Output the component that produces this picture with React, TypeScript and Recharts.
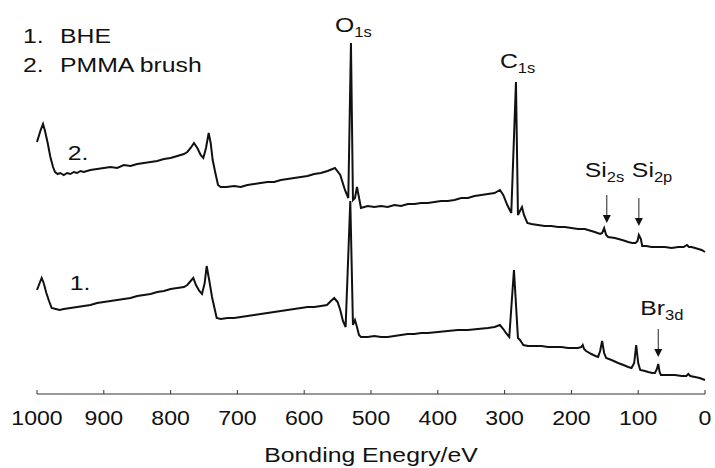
import React from "react";
import { LineChart, Line, XAxis, YAxis, ReferenceDot } from "recharts";

// binding energy (eV) / intensity (arb. units, px-like scale)
const pmmaEv = [
  1000, 995, 991, 988, 984, 980, 976, 973, 969, 965, 960, 955, 950, 945, 940, 935, 930, 920, 910, 900,
  890, 880, 870, 860, 850, 840, 830, 820, 810, 800, 790, 780, 775, 770, 765, 760, 755, 751, 747, 743,
  740, 737, 733, 729, 725, 716, 705, 695, 685, 675, 665, 655, 645, 635, 625, 615, 605, 595, 585, 575,
  565, 554, 546, 539, 534, 530, 527, 524, 521, 515, 505, 495, 485, 475, 465, 455, 445, 435, 425, 415,
  405, 395, 385, 375, 365, 355, 345, 335, 325, 315, 307, 302, 296, 290, 283, 280, 277, 274, 271, 266,
  260, 250, 240, 230, 220, 210, 200, 190, 180, 175, 165, 157, 154, 151, 148, 145, 135, 124, 115, 109,
  104, 101, 99, 96, 94, 88, 80, 70, 60, 50, 40, 32, 27, 24, 20, 15, 10, 5, 0,
];
const pmmaI = [
  251, 262, 269, 262, 250, 236, 226, 221, 219, 220, 218, 220, 219, 221, 220, 222, 221, 223, 224, 225,
  226, 225, 228, 227, 229, 230, 231, 232, 234, 235, 237, 239, 241, 245, 250, 245, 238, 235, 245, 260,
  250, 233, 220, 208, 206, 206, 207, 206, 208, 209, 210, 211, 211, 213, 214, 215, 216, 217, 219, 220,
  222, 225, 218, 203, 195, 350, 193, 195, 206, 185, 187, 186, 187, 186, 188, 187, 189, 189, 190, 190,
  191, 192, 192, 193, 195, 195, 197, 198, 199, 200, 203, 198, 188, 180, 311, 178, 182, 186, 178, 170,
  169, 168, 167, 167, 166, 166, 165, 164, 164, 163, 161, 159, 160, 165, 158, 156, 155, 153, 151, 150,
  150, 152, 158, 154, 147, 147, 146, 146, 146, 145, 146, 146, 148, 146, 146, 145, 144, 143, 141,
];

const bheEv = [
  1000, 996, 993, 990, 986, 982, 978, 972, 966, 960, 950, 940, 930, 920, 910, 900, 890, 880, 870, 860,
  850, 840, 830, 820, 810, 800, 790, 780, 775, 770, 766, 762, 757, 753, 749, 746, 742, 738, 734, 731,
  725, 715, 705, 695, 685, 675, 665, 655, 645, 635, 625, 615, 605, 595, 585, 575, 566, 560, 555, 550,
  546, 542, 538, 531, 527, 524, 521, 518, 515, 505, 495, 485, 475, 465, 455, 445, 435, 425, 415, 400,
  385, 370, 355, 340, 325, 315, 307, 302, 298, 293, 286, 280, 277, 274, 272, 265, 255, 245, 235, 225,
  215, 205, 195, 190, 185, 183, 181, 178, 170, 164, 160, 157, 154, 151, 148, 140, 130, 122, 115, 110,
  106, 103, 100, 97, 90, 85, 79, 75, 72, 70, 68, 66, 55, 45, 35, 28, 25, 22, 15, 8, 0,
];
const bheI = [
  103, 110, 115, 110, 100, 92, 85, 84, 83, 84, 85, 86, 87, 88, 90, 91, 92, 93, 94, 95,
  97, 98, 99, 101, 102, 104, 105, 106, 108, 112, 115, 108, 102, 99, 110, 127, 112, 96, 84, 75,
  74, 75, 75, 76, 77, 78, 79, 80, 81, 82, 83, 84, 85, 86, 86, 87, 88, 92, 95, 91,
  83, 72, 66, 192, 68, 73, 66, 58, 56, 56, 57, 56, 56, 57, 58, 59, 59, 60, 60, 61,
  62, 63, 63, 64, 65, 66, 68, 64, 60, 56, 123, 55, 53, 50, 48, 47, 47, 47, 46, 46,
  46, 45, 45, 45, 46, 48, 44, 42, 39, 37, 36, 42, 52, 40, 35, 33, 30, 28, 26, 25,
  30, 48, 30, 23, 22, 21, 20, 20, 24, 29, 21, 18, 18, 18, 17, 17, 19, 17, 16, 15, 13,
];

const xTicks = [1000, 900, 800, 700, 600, 500, 400, 300, 200, 100, 0];

const legendLines = [
  { num: "1.", name: "BHE" },
  { num: "2.", name: "PMMA brush" },
];

// peak labels and arrows, anchored in data space
const peakLabels = [
  { main: "O", sub: "1s", ev: 530, value: 350, dx: -16, dy: -11 },
  { main: "C", sub: "1s", ev: 283, value: 311, dx: -16, dy: -14 },
];
const arrowLabels = [
  { main: "Si", sub: "2s", ev: 147, value: 170, dx: -22, dy: -46 },
  { main: "Si", sub: "2p", ev: 99, value: 167, dx: -7, dy: -49 },
  { main: "Br", sub: "3d", ev: 70, value: 36, dx: -18, dy: -42 },
];
const curveTags = [
  { text: "2.", ev: 954, value: 233 },
  { text: "1.", ev: 951, value: 103 },
];

const pmmaData = pmmaEv.map((ev, i) => ({ ev, v: pmmaI[i] }));
const bheData = bheEv.map((ev, i) => ({ ev, v: bheI[i] }));

const FONT = "'Liberation Sans', Arial, sans-serif";
const SX = 1.18;

function SubText({ x, y, main, sub }: { x: number; y: number; main: string; sub: string }) {
  return (
    <text transform={`translate(${x},${y}) scale(${SX},1)`} fontFamily={FONT} fontSize={21} fill="#111">
      <tspan>{main}</tspan>
      <tspan dy={5} fontSize={14}>{sub}</tspan>
    </text>
  );
}

const XTick = (props: any) => {
  const { x, y, payload } = props;
  return (
    <g>
      <line x1={x} x2={x} y1={y} y2={y - 4} stroke="#333" strokeWidth={1} />
      <text
        transform={`translate(${x},${y + 31}) scale(1.1,1)`}
        textAnchor="middle"
        fontFamily={FONT}
        fontSize={21}
        fill="#111"
      >
        {payload.value}
      </text>
    </g>
  );
};

const AxisTitle = (props: any) => {
  const { x, y, width } = props.viewBox;
  return (
    <text
      transform={`translate(${x + width / 2},${y + 68}) scale(${SX},1)`}
      textAnchor="middle"
      fontFamily={FONT}
      fontSize={21}
      fill="#111"
    >
      Bonding Enegry/eV
    </text>
  );
};

export default function App() {
  return (
    <div style={{ position: "absolute", left: 0, top: 0, width: 715, height: 468, background: "#fff" }}>
      <LineChart width={715} height={468} margin={{ top: 10, right: 10, bottom: 0, left: 37 }}>
        <YAxis hide type="number" domain={[-1, 383]} />
        <XAxis
          dataKey="ev"
          type="number"
          domain={[0, 1000]}
          reversed
          ticks={xTicks}
          interval={0}
          height={74}
          stroke="#333"
          tickLine={false}
          tickSize={0}
          tickMargin={0}
          tick={<XTick />}
          label={{ content: <AxisTitle /> }}
        />
        <Line data={bheData} dataKey="v" type="linear" stroke="#111" strokeWidth={2} dot={false} isAnimationActive={false} />
        <Line data={pmmaData} dataKey="v" type="linear" stroke="#111" strokeWidth={2} dot={false} isAnimationActive={false} />
        {peakLabels.map((p) => (
          <ReferenceDot
            key={p.main + p.sub}
            x={p.ev}
            y={p.value}
            r={0}
            ifOverflow="visible"
            shape={(s: any) => <SubText x={s.cx + p.dx} y={s.cy + p.dy} main={p.main} sub={p.sub} />}
          />
        ))}
        {arrowLabels.map((a) => (
          <ReferenceDot
            key={a.main + a.sub}
            x={a.ev}
            y={a.value}
            r={0}
            ifOverflow="visible"
            shape={(s: any) => (
              <g>
                <line x1={s.cx} x2={s.cx} y1={s.cy - 28} y2={s.cy - 6} stroke="#222" strokeWidth={1} />
                <polygon points={`${s.cx - 4},${s.cy - 8} ${s.cx + 4},${s.cy - 8} ${s.cx},${s.cy}`} fill="#111" />
                <SubText x={s.cx + a.dx} y={s.cy + a.dy} main={a.main} sub={a.sub} />
              </g>
            )}
          />
        ))}
        {curveTags.map((c) => (
          <ReferenceDot
            key={c.text + c.ev}
            x={c.ev}
            y={c.value}
            r={0}
            ifOverflow="visible"
            shape={(s: any) => (
              <text transform={`translate(${s.cx},${s.cy}) scale(${SX},1)`} fontFamily={FONT} fontSize={21} fill="#111">
                {c.text}
              </text>
            )}
          />
        ))}
      </LineChart>
      <svg width={715} height={90} style={{ position: "absolute", left: 0, top: 0, pointerEvents: "none" }}>
        {legendLines.map((l, i) => (
          <g key={l.num}>
            <text transform={`translate(23,${43 + i * 29}) scale(${SX},1)`} fontFamily={FONT} fontSize={21} fill="#111">
              {l.num}
            </text>
            <text transform={`translate(60,${43 + i * 29}) scale(${SX},1)`} fontFamily={FONT} fontSize={21} fill="#111">
              {l.name}
            </text>
          </g>
        ))}
      </svg>
    </div>
  );
}
